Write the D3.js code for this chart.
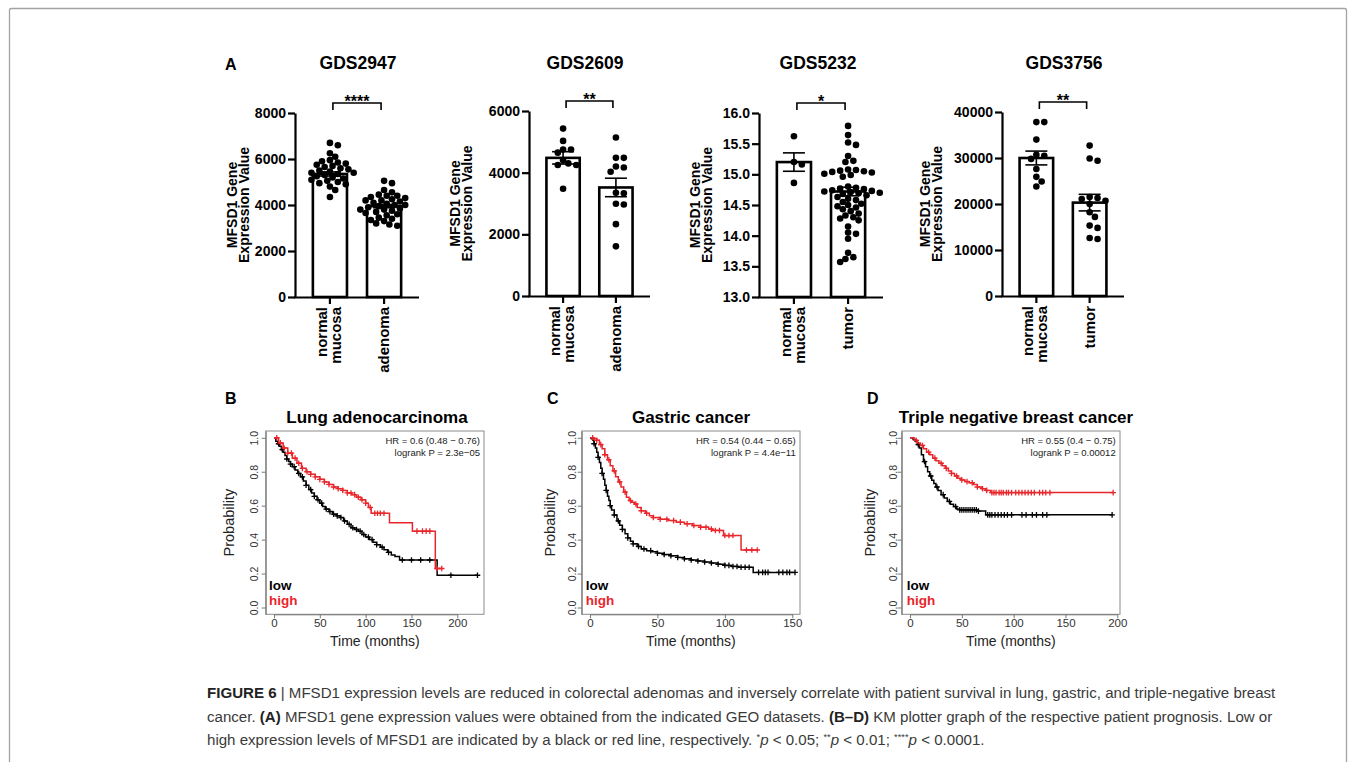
<!DOCTYPE html>
<html>
<head>
<meta charset="utf-8">
<script src="https://cdn.jsdelivr.net/npm/d3@7"></script>
<style>
  body { margin: 0; background: #fff; }
  svg { display: block; }
</style>
</head>
<body>
<svg id="fig" width="1355" height="762"></svg>
<script>
// ---------- DATA ----------
// panel A : GEO datasets
const gdsTitles = ["GDS2947", "GDS2609", "GDS5232", "GDS3756"];
const gdsGroups = [
  ["normal mucosa", "adenoma"],
  ["normal mucosa", "adenoma"],
  ["normal mucosa", "tumor"],
  ["normal mucosa", "tumor"]
];
const gds2947Normal = [6700, 6600, 6250, 6100, 5950, 5900, 5850, 5800, 5750, 5700, 5650, 5600, 5550, 5500, 5450,
  5400, 5400, 5350, 5300, 5250, 5200, 5150, 5100, 5050, 5000, 4950, 4900, 4800, 4650, 4350];
const gds2947Adenoma = [5050, 4950, 4650, 4550, 4450, 4400, 4400, 4350, 4300, 4250, 4200, 4200, 4150, 4100, 4050,
  4000, 4000, 3950, 3900, 3850, 3800, 3800, 3750, 3700, 3650, 3600, 3550, 3450, 3400, 3350, 3300, 3200, 3150, 3100];
const gds2609Normal = [5430, 5030, 4750, 4750, 4650, 4400, 4300, 4250, 4250, 3480];
const gds2609Adenoma = [5140, 4480, 4480, 4200, 4170, 4030, 3350, 3330, 2990, 2970, 2330, 1610];
const gds5232Normal = [15.62, 15.2, 15.16, 14.86];
const gds5232Tumor = [15.79, 15.64, 15.52, 15.48, 15.3, 15.22, 15.2, 15.08, 15.07, 15.06, 15.05, 15.04, 15.03, 15.01,
  14.99, 14.96, 14.8, 14.78, 14.77, 14.76, 14.74, 14.73, 14.72, 14.71, 14.7, 14.69, 14.68, 14.66, 14.63, 14.6, 14.58,
  14.55, 14.52, 14.5, 14.48, 14.46, 14.43, 14.4, 14.36, 14.33, 14.3, 14.28, 14.25, 14.15, 14.05, 14.03, 13.95, 13.72,
  13.65, 13.62, 13.57];
const gds3756Normal = [37800, 37800, 34000, 30700, 30500, 29800, 27600, 25900, 24900, 23800];
const gds3756Tumor = [32700, 29900, 29400, 21500, 21300, 21100, 20700, 20000, 18200, 17200, 15300, 14800, 12600, 12400];

const gdsPoints = [
  [gds2947Normal, gds2947Adenoma],
  [gds2609Normal, gds2609Adenoma],
  [gds5232Normal, gds5232Tumor],
  [gds3756Normal, gds3756Tumor]
];
const gdsMeans = [[5350, 3950], [4480, 3520], [15.2, 14.72], [30000, 20300]];
const gdsSem = [[90, 70], [200, 300], [0.15, 0.07], [1500, 1800]];
const gdsTicks = [
  [0, 2000, 4000, 6000, 8000],
  [0, 2000, 4000, 6000],
  [13.0, 13.5, 14.0, 14.5, 15.0, 15.5, 16.0],
  [0, 10000, 20000, 30000, 40000]
];
const gdsStars = ["****", "**", "*", "**"];

// panels B-D : Kaplan-Meier curves (time in months, survival probability)
const kmTitles = ["Lung adenocarcinoma", "Gastric cancer", "Triple negative breast cancer"];
const kmHR = ["HR = 0.6 (0.48 \u2212 0.76)", "HR = 0.54 (0.44 \u2212 0.65)", "HR = 0.55 (0.4 \u2212 0.75)"];
const kmP = ["logrank P = 2.3e\u221205", "logrank P = 4.4e\u221211", "logrank P = 0.00012"];
const kmXTicks = [[0, 50, 100, 150, 200], [0, 50, 100, 150], [0, 50, 100, 150, 200]];
const kmYTicks = [0, 0.2, 0.4, 0.6, 0.8, 1.0];

const lungLowT = [0, 2, 4, 6, 8, 10, 12, 14, 16, 18, 20, 23, 26, 29, 32, 35, 38, 41, 44, 47, 50, 53, 56, 60, 64, 68,
  72, 76, 80, 84, 88, 92, 96, 100, 104, 108, 112, 116, 120, 124, 128, 132, 137, 178, 222];
const lungLowS = [1, 0.98, 0.965, 0.95, 0.93, 0.915, 0.895, 0.875, 0.86, 0.845, 0.83, 0.81, 0.79, 0.77, 0.745, 0.72,
  0.695, 0.675, 0.655, 0.635, 0.615, 0.595, 0.58, 0.565, 0.55, 0.54, 0.53, 0.51, 0.49, 0.47, 0.46, 0.45, 0.43, 0.415,
  0.4, 0.385, 0.37, 0.355, 0.34, 0.325, 0.31, 0.3, 0.28, 0.19, 0.19];
const lungLowCens = [5, 9, 14, 18, 22, 27, 31, 35, 40, 44, 48, 52, 57, 61, 65, 69, 73, 77, 82, 86, 90, 94, 98, 103,
  107, 112, 118, 125, 140, 150, 160, 170, 193, 222];
const lungHighT = [0, 5, 10, 15, 20, 25, 30, 35, 40, 45, 50, 55, 60, 65, 70, 75, 80, 85, 90, 95, 100, 103, 106, 126,
  151, 176, 183];
const lungHighS = [1, 0.97, 0.94, 0.91, 0.88, 0.85, 0.82, 0.8, 0.785, 0.77, 0.755, 0.74, 0.725, 0.71, 0.7, 0.69,
  0.675, 0.665, 0.65, 0.635, 0.615, 0.59, 0.555, 0.5, 0.45, 0.23, 0.23];
const lungHighCens = [3, 7, 11, 15, 19, 23, 27, 31, 36, 40, 45, 50, 55, 60, 65, 70, 75, 80, 84, 88, 92, 96, 100, 105,
  110, 113, 116, 120, 156, 162, 166, 170, 178, 183];

const gastricLowT = [0, 1, 2, 3, 4, 5, 6, 7, 8, 9, 10, 11, 12, 13, 14, 15, 16, 18, 20, 22, 24, 26, 28, 30, 32, 35, 38,
  42, 46, 50, 55, 60, 65, 70, 75, 80, 85, 90, 95, 100, 105, 110, 121, 152];
const gastricLowS = [1, 0.995, 0.985, 0.965, 0.94, 0.915, 0.885, 0.855, 0.82, 0.79, 0.755, 0.72, 0.69, 0.655, 0.63,
  0.6, 0.575, 0.545, 0.51, 0.485, 0.46, 0.435, 0.41, 0.39, 0.375, 0.36, 0.345, 0.335, 0.328, 0.32, 0.312, 0.305, 0.295,
  0.287, 0.28, 0.274, 0.268, 0.262, 0.255, 0.248, 0.242, 0.237, 0.207, 0.207];
const gastricLowCens = [3, 6, 9, 12, 15, 18, 21, 24, 28, 32, 36, 40, 45, 50, 55, 60, 65, 70, 75, 80, 85, 90, 95, 100,
  103, 106, 109, 112, 115, 118, 125, 128, 130, 132, 140, 143, 146, 148, 152];
const gastricHighT = [0, 3, 5, 7, 9, 11, 13, 15, 17, 19, 21, 23, 25, 27, 29, 31, 33, 35, 38, 41, 44, 47, 52, 58, 64,
  70, 76, 82, 88, 91, 99, 112, 124];
const gastricHighS = [1, 0.995, 0.985, 0.96, 0.935, 0.9, 0.87, 0.835, 0.805, 0.77, 0.74, 0.71, 0.68, 0.65, 0.63,
  0.62, 0.61, 0.59, 0.57, 0.555, 0.54, 0.53, 0.52, 0.512, 0.503, 0.493, 0.483, 0.473, 0.462, 0.454, 0.424, 0.339, 0.339];
const gastricHighCens = [2, 5, 8, 11, 14, 18, 22, 26, 30, 34, 38, 42, 47, 52, 57, 62, 67, 72, 77, 82, 86, 90, 93, 96,
  100, 103, 106, 116, 120, 124];

const tnbcLowT = [0, 3, 5, 7, 9, 11, 13, 15, 17, 19, 21, 23, 25, 27, 30, 33, 36, 39, 42, 45, 48, 65, 73, 195];
const tnbcLowS = [1, 0.99, 0.98, 0.96, 0.94, 0.9, 0.86, 0.83, 0.8, 0.775, 0.75, 0.73, 0.71, 0.69, 0.665, 0.645, 0.625,
  0.608, 0.595, 0.58, 0.575, 0.568, 0.546, 0.546];
const tnbcLowCens = [8, 14, 20, 26, 32, 38, 44, 48, 50, 52, 54, 56, 58, 60, 62, 64, 66, 75, 77, 79, 82, 85, 88, 91, 94,
  98, 108, 112, 118, 122, 128, 132, 195];
const tnbcHighT = [0, 4, 7, 10, 13, 16, 19, 22, 25, 28, 31, 34, 37, 40, 43, 46, 49, 53, 57, 61, 65, 69, 73, 78, 196];
const tnbcHighS = [1, 0.985, 0.97, 0.955, 0.935, 0.915, 0.9, 0.88, 0.865, 0.85, 0.835, 0.82, 0.805, 0.79, 0.775, 0.762,
  0.752, 0.742, 0.735, 0.725, 0.71, 0.7, 0.69, 0.677, 0.677];
const tnbcHighCens = [6, 12, 18, 24, 30, 35, 40, 45, 50, 55, 60, 65, 70, 74, 79, 81, 83, 86, 88, 90, 93, 95, 98, 102,
  105, 108, 111, 114, 117, 120, 125, 128, 131, 135, 196];

const kmCurves = [
  { low: [lungLowT, lungLowS, lungLowCens], high: [lungHighT, lungHighS, lungHighCens] },
  { low: [gastricLowT, gastricLowS, gastricLowCens], high: [gastricHighT, gastricHighS, gastricHighCens] },
  { low: [tnbcLowT, tnbcLowS, tnbcLowCens], high: [tnbcHighT, tnbcHighS, tnbcHighCens] }
];

// caption
const captionLines = [
  [["FIGURE 6", "b"], [" | MFSD1 expression levels are reduced in colorectal adenomas and inversely correlate with patient survival in lung, gastric, and triple-negative breast", ""]],
  [["cancer. ", ""], ["(A)", "b"], [" MFSD1 gene expression values were obtained from the indicated GEO datasets. ", ""], ["(B\u2013D)", "b"], [" KM plotter graph of the respective patient prognosis. Low or", ""]],
  [["high expression levels of MFSD1 are indicated by a black or red line, respectively. ", ""], ["*", "sup"], ["p", "i"], [" < 0.05; ", ""], ["**", "sup"], ["p", "i"], [" < 0.01; ", ""], ["****", "sup"], ["p", "i"], [" < 0.0001.", ""]]
];

// ---------- LAYOUT ----------
const FONT = "'Liberation Sans', Arial, Helvetica, sans-serif";
const RED = "#e8262b";

const barLayout = [
  { ax: 295, x1: 419, y0: 297, y1: 113, titleX: 358, yLabX: 237 },
  { ax: 529, x1: 650, y0: 296, y1: 111, titleX: 585, yLabX: 460 },
  { ax: 759, x1: 883, y0: 297, y1: 113, titleX: 818, yLabX: 700 },
  { ax: 1002, x1: 1124, y0: 296, y1: 112, titleX: 1064, yLabX: 930 }
];
const kmLayout = [
  { letter: "B", lx: 225, bx0: 265.7, bx1: 484, x0: 274, xRef: 200, xRefPx: 457.3, titleX: 377, probX: 234, yTickX: 258, legX: 269, hrX: 480 },
  { letter: "C", lx: 547, bx0: 581.7, bx1: 800, x0: 590, xRef: 150, xRefPx: 792.3, titleX: 691, probX: 555, yTickX: 576, legX: 585.7, hrX: 795.7 },
  { letter: "D", lx: 867, bx0: 901.7, bx1: 1120, x0: 910, xRef: 200, xRefPx: 1117.3, titleX: 1016, probX: 875, yTickX: 897, legX: 906.7, hrX: 1115.7 }
];
const boxTop = 431, boxBot = 614.3;

const svg = d3.select("#fig");

// outer frame
svg.append("rect")
  .attr("x", 9.5).attr("y", 8.5)
  .attr("width", 1337).attr("height", 800)
  .attr("rx", 2)
  .attr("fill", "none")
  .attr("stroke", "#a3a3a3")
  .attr("stroke-width", 1.3);

// simple deterministic beeswarm: offsets so dots don't pile up
function swarm(values, y, r) {
  const order = d3.range(values.length).sort((a, b) => values[b] - values[a]);
  const placed = [];
  const xs = new Array(values.length);
  for (const i of order) {
    const yi = y(values[i]);
    let off = 0;
    for (let k = 0; k < 60; k++) {
      const cand = k === 0 ? 0 : (k % 2 ? 1 : -1) * Math.ceil(k / 2) * r * 0.8;
      if (placed.every(p => Math.hypot(p[0] - cand, p[1] - yi) >= r * 1.85)) { off = cand; break; }
    }
    placed.push([off, yi]);
    xs[i] = off;
  }
  return xs;
}

// ---------- PANEL A ----------
svg.append("text")
  .attr("x", 225).attr("y", 70)
  .attr("font-family", FONT).attr("font-weight", "bold").attr("font-size", 16)
  .text("A");

function drawBarPanel(i) {
  const L = barLayout[i];
  const g = svg.append("g");
  const cats = gdsGroups[i];
  const y = d3.scaleLinear().domain(d3.extent(gdsTicks[i])).range([L.y0, L.y1]);
  const x = d3.scaleBand().domain(cats).range([L.ax, L.x1]).paddingInner(0.37).paddingOuter(0.33);
  const fmt = i === 2 ? d3.format(".1f") : d3.format("d");

  // title
  g.append("text")
    .attr("x", L.titleX).attr("y", 69)
    .attr("text-anchor", "middle")
    .attr("font-family", FONT).attr("font-weight", "bold").attr("font-size", 17.5)
    .text(gdsTitles[i]);

  // bars
  g.selectAll("rect.bar")
    .data(gdsMeans[i])
    .join("rect")
    .attr("class", "bar")
    .attr("x", (d, j) => x(cats[j]))
    .attr("y", d => y(d))
    .attr("width", x.bandwidth())
    .attr("height", d => L.y0 - y(d))
    .attr("fill", "#fff")
    .attr("stroke", "#000")
    .attr("stroke-width", 2.6);

  // dots
  const r = 3.3;
  gdsPoints[i].forEach((vals, j) => {
    const cx = x(cats[j]) + x.bandwidth() / 2;
    const offs = swarm(vals, y, r);
    g.selectAll(null)
      .data(vals)
      .join("circle")
      .attr("cx", (d, k) => cx + offs[k])
      .attr("cy", d => y(d))
      .attr("r", r)
      .attr("fill", "#000");
  });

  // error bars (mean +/- SEM)
  gdsMeans[i].forEach((m, j) => {
    const cx = x(cats[j]) + x.bandwidth() / 2;
    const s = gdsSem[i][j];
    const eb = g.append("g").attr("stroke", "#000").attr("stroke-width", 1.6);
    eb.append("line").attr("x1", cx).attr("x2", cx).attr("y1", y(m + s)).attr("y2", y(m - s));
    [m + s, m - s].forEach(v => {
      eb.append("line").attr("x1", cx - 11).attr("x2", cx + 11).attr("y1", y(v)).attr("y2", y(v));
    });
  });

  // axes
  const yAxis = g.append("g")
    .attr("transform", `translate(${L.ax},0)`)
    .call(d3.axisLeft(y).tickValues(gdsTicks[i]).tickSize(7).tickSizeOuter(0).tickPadding(2).tickFormat(fmt));
  const xAxis = g.append("g")
    .attr("transform", `translate(0,${L.y0})`)
    .call(d3.axisBottom(x).tickSize(7).tickSizeOuter(0).tickFormat(""));
  [yAxis, xAxis].forEach(a => {
    a.attr("font-family", FONT).attr("font-size", 14).attr("font-weight", "bold");
    a.select(".domain").attr("stroke-width", 2.2);
    a.selectAll(".tick line").attr("stroke-width", 2.2);
    a.selectAll(".tick text").attr("fill", "#000");
  });
  xAxis.select(".domain").attr("d", `M${L.ax - 1},0.5H${L.x1}`);

  // category labels (rotated)
  cats.forEach(name => {
    const words = name.split(" ");
    const cx = x(name) + x.bandwidth() / 2;
    const offs = words.length === 2 ? [-3, 11] : [5];
    words.forEach((w, k) => {
      g.append("text")
        .attr("transform", `translate(${cx + offs[k]},${L.y0 + 10}) rotate(-90)`)
        .attr("text-anchor", "end")
        .attr("font-family", FONT).attr("font-weight", "bold").attr("font-size", 15)
        .text(w);
    });
  });

  // y title
  ["MFSD1 Gene", "Expression Value"].forEach((t, k) => {
    g.append("text")
      .attr("transform", `translate(${L.yLabX + k * 12},${(L.y0 + L.y1) / 2}) rotate(-90)`)
      .attr("text-anchor", "middle")
      .attr("font-family", FONT).attr("font-weight", "bold").attr("font-size", 14)
      .text(t);
  });

  // significance bracket
  const c1 = x(cats[0]) + x.bandwidth() / 2 + 3;
  const c2 = x(cats[1]) + x.bandwidth() / 2 - 3;
  const by = L.y1 - 10;
  g.append("path")
    .attr("d", `M${c1},${by + 7}V${by}H${c2}V${by + 7}`)
    .attr("fill", "none").attr("stroke", "#000").attr("stroke-width", 1.6);
  g.append("text")
    .attr("x", (c1 + c2) / 2).attr("y", by + 4)
    .attr("text-anchor", "middle")
    .attr("font-family", FONT).attr("font-weight", "bold").attr("font-size", 16)
    .text(gdsStars[i]);
}
d3.range(4).forEach(drawBarPanel);

// ---------- PANELS B-D ----------
function drawKM(k) {
  const L = kmLayout[k];
  const g = svg.append("g");
  const x = d3.scaleLinear().domain([0, L.xRef]).range([L.x0, L.xRefPx]);
  const y = d3.scaleLinear().domain([-0.04, 1.04]).range([boxBot, boxTop]);

  g.append("text")
    .attr("x", L.lx).attr("y", 404)
    .attr("font-family", FONT).attr("font-weight", "bold").attr("font-size", 16)
    .text(L.letter);
  g.append("text")
    .attr("x", L.titleX).attr("y", 423)
    .attr("text-anchor", "middle")
    .attr("font-family", FONT).attr("font-weight", "bold").attr("font-size", 17)
    .text(kmTitles[k]);

  g.append("rect")
    .attr("x", L.bx0).attr("y", boxTop)
    .attr("width", L.bx1 - L.bx0).attr("height", boxBot - boxTop)
    .attr("fill", "none").attr("stroke", "#8c8c8c").attr("stroke-width", 1);

  const xa = g.append("g")
    .attr("transform", `translate(0,${boxBot})`)
    .call(d3.axisBottom(x).tickValues(kmXTicks[k]).tickSize(4).tickSizeOuter(0).tickPadding(1));
  xa.attr("font-family", FONT).attr("font-size", 11.5);
  const ya = g.append("g")
    .attr("transform", `translate(${L.bx0},0)`)
    .call(d3.axisLeft(y).tickValues(kmYTicks).tickSize(4).tickSizeOuter(0).tickFormat(d3.format(".1f")));
  ya.attr("font-family", FONT).attr("font-size", 10.5);
  ya.selectAll(".tick text")
    .attr("x", null).attr("dy", null)
    .attr("text-anchor", "middle")
    .attr("transform", `translate(${L.yTickX - L.bx0},0) rotate(-90)`);
  [xa, ya].forEach(a => {
    a.selectAll(".domain, .tick line").attr("stroke", "#777");
    a.selectAll(".tick text").attr("fill", "#333");
  });

  g.append("text")
    .attr("x", (L.bx0 + L.bx1) / 2).attr("y", 645.5)
    .attr("text-anchor", "middle")
    .attr("font-family", FONT).attr("font-size", 14).attr("fill", "#222")
    .text("Time (months)");
  g.append("text")
    .attr("transform", `translate(${L.probX},${(boxTop + boxBot) / 2}) rotate(-90)`)
    .attr("text-anchor", "middle")
    .attr("font-family", FONT).attr("font-size", 14.5).attr("fill", "#222")
    .text("Probability");

  g.append("text")
    .attr("x", L.hrX).attr("y", 443.5)
    .attr("text-anchor", "end")
    .attr("font-family", FONT).attr("font-size", 9.5).attr("fill", "#222")
    .text(kmHR[k]);
  g.append("text")
    .attr("x", L.hrX).attr("y", 455.5)
    .attr("text-anchor", "end")
    .attr("font-family", FONT).attr("font-size", 9.5).attr("fill", "#222")
    .text(kmP[k]);

  g.append("text")
    .attr("x", L.legX).attr("y", 590)
    .attr("font-family", FONT).attr("font-weight", "bold").attr("font-size", 13.5).attr("fill", "#000")
    .text("low");
  g.append("text")
    .attr("x", L.legX).attr("y", 605)
    .attr("font-family", FONT).attr("font-weight", "bold").attr("font-size", 13.5).attr("fill", RED)
    .text("high");

  const line = d3.line().x(d => x(d[0])).y(d => y(d[1])).curve(d3.curveStepAfter);
  [["low", "#000"], ["high", RED]].forEach(([key, col]) => {
    const [ts, ss, cens] = kmCurves[k][key];
    const pts = ts.map((t, i) => [t, ss[i]]);
    g.append("path")
      .attr("d", line(pts))
      .attr("fill", "none").attr("stroke", col).attr("stroke-width", 1.5);
    const survAt = t => ss[Math.max(0, d3.bisectRight(ts, t) - 1)];
    g.selectAll(null)
      .data(cens)
      .join("path")
      .attr("d", c => {
        const px = x(c), py = y(survAt(c));
        return `M${px - 2.8},${py}H${px + 2.8}M${px},${py - 2.8}V${py + 2.8}`;
      })
      .attr("stroke", col).attr("stroke-width", 1.3);
  });
}
d3.range(3).forEach(drawKM);

// ---------- CAPTION ----------
const capBase = [698, 721.5, 745];
const capTexts = captionLines.map((parts, li) => {
  const t = svg.append("text")
    .attr("x", 207).attr("y", capBase[li])
    .attr("font-family", FONT).attr("font-size", 16).attr("fill", "#3a3a3a");
  let raised = false;
  parts.forEach(([s, style]) => {
    const ts = t.append("tspan").text(s);
    if (style === "b") ts.attr("font-weight", "bold").attr("fill", "#222");
    if (style === "i") ts.attr("font-style", "italic");
    if (style === "sup") {
      ts.attr("font-size", "0.62em").attr("dy", -5);
      raised = true;
    } else if (raised) {
      ts.attr("dy", 5);
      raised = false;
    }
  });
  return t;
});
// fit the caption font so the first line spans the same width as in the figure
const natural = capTexts[0].node().getComputedTextLength();
const capSize = 16 * 1069 / natural;
capTexts.forEach(t => t.attr("font-size", capSize));
</script>
</body>
</html>
